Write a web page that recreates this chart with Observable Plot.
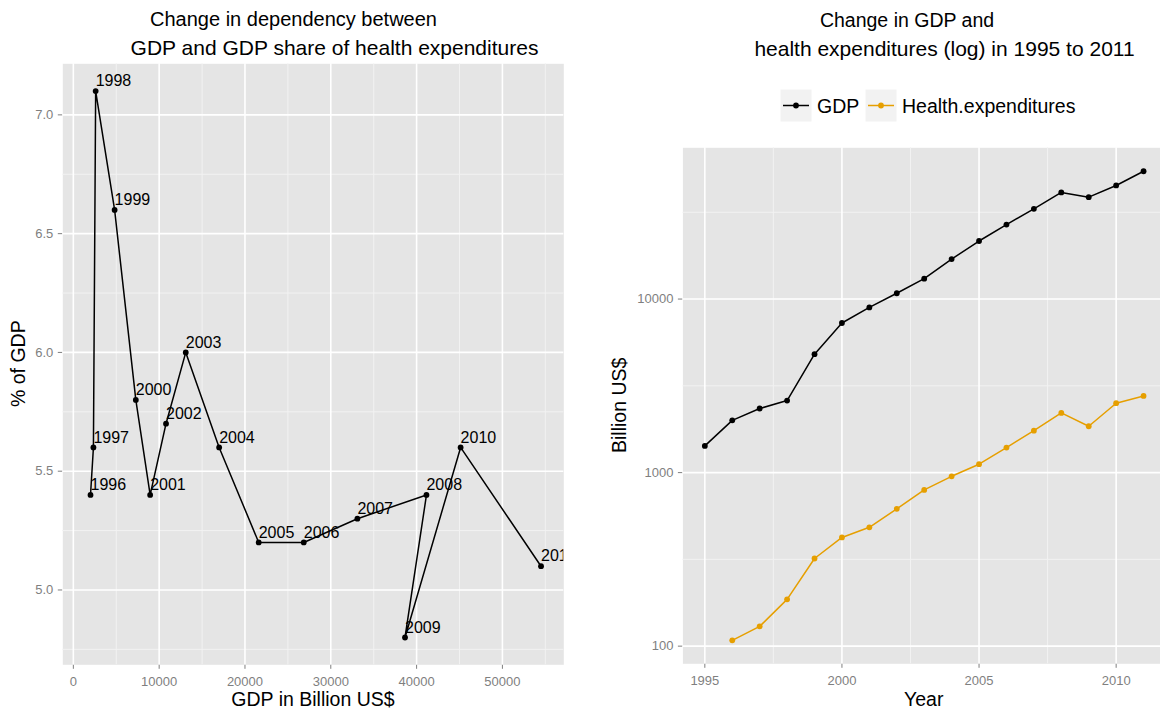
<!DOCTYPE html>
<html><head><meta charset="utf-8">
<script src="https://cdn.jsdelivr.net/npm/d3@7"></script>
<script src="https://cdn.jsdelivr.net/npm/@observablehq/plot@0.6"></script>
<style>
html,body{margin:0;padding:0;background:#fff;overflow:hidden;}
#root{position:relative;width:1160px;height:711px;overflow:hidden;font-family:"Liberation Sans",Arial,sans-serif;}
#root > svg, #root > figure{position:absolute;margin:0;}
</style></head><body><div id="root"></div>
<script>
// ---------- data ----------
const years = [1995,1996,1997,1998,1999,2000,2001,2002,2003,2004,2005,2006,2007,2008,2009,2010,2011];
const gdp = [1425,2000,2340,2600,4810,7280,8950,10800,13100,16990,21600,26850,33100,41150,38650,45130,54500];
const healthExpenditures = [null,108,130,186,320,423,484,618,795,952,1118,1393,1745,2207,1849,2511,2764];
const healthShare = [null,5.4,5.6,7.1,6.6,5.8,5.4,5.7,6.0,5.6,5.2,5.2,5.3,5.4,4.8,5.6,5.1];

const seriesNames = ["GDP","Health.expenditures"];
const seriesColors = ["#000000","#E69F00"];

const leftXTicks = [0,10000,20000,30000,40000,50000];
const leftXMinor = [5000,15000,25000,35000,45000,55000];
const leftYTicks = [5.0,5.5,6.0,6.5,7.0];
const leftYMinor = [4.75,5.25,5.75,6.25,6.75];
const rightXTicks = [1995,2000,2005,2010];
const rightXMinor = [1997.5,2002.5,2007.5];
const rightYTicks = [100,1000,10000];
const rightYMinor = [316.23,3162.3,31623];

const leftTitle = ["Change in dependency between", "GDP and GDP share of health expenditures"];
const rightTitle = ["Change in GDP and", "health expenditures (log) in 1995 to 2011"];

// ---------- tables ----------
const leftData = years.map((y,i)=>({year:y, gdp:gdp[i], share:healthShare[i]})).filter(d=>d.share!=null);
const rightData = [];
years.forEach((y,i)=>{
  rightData.push({year:y, series:seriesNames[0], value:gdp[i]});
  if (healthExpenditures[i]!=null) rightData.push({year:y, series:seriesNames[1], value:healthExpenditures[i]});
});

function pad(ext, f=0.05){const r=ext[1]-ext[0];return [ext[0]-r*f, ext[1]+r*f];}
const xDomL = pad(d3.extent(gdp));
const yDomL = pad(d3.extent(leftData, d=>d.share));
const xDomR = pad(d3.extent(years));
const lg = pad(d3.extent(rightData, d=>Math.log10(d.value)));
const yDomR = [10**lg[0], 10**lg[1]];

const FONT = "Liberation Sans, Arial, sans-serif";
const PANEL = "#e5e5e5", MINOR = "#f2f2f2", MAJOR = "#ffffff", TICK = "#7f7f7f";

const root = document.getElementById("root");

// ---------- left chart ----------
const left = Plot.plot({
  width: 580, height: 711,
  marginLeft: 62.3, marginRight: 16.7, marginTop: 63.3, marginBottom: 46.7,
  style: {fontFamily: FONT, fontSize: "13px", color: TICK, background: "transparent", overflow: "visible"},
  x: {domain: xDomL, ticks: leftXTicks, tickFormat: "d", tickSize: 4.5, tickPadding: 7, label: null},
  y: {domain: yDomL, ticks: leftYTicks, tickFormat: ".1f", tickSize: 4.5, tickPadding: 5, label: null},
  marks: [
    Plot.frame({fill: PANEL, stroke: "none"}),
    Plot.ruleX(leftXMinor, {stroke: MINOR, strokeWidth: 1}),
    Plot.ruleY(leftYMinor, {stroke: MINOR, strokeWidth: 1}),
    Plot.ruleX(leftXTicks, {stroke: MAJOR, strokeWidth: 1.6}),
    Plot.ruleY(leftYTicks, {stroke: MAJOR, strokeWidth: 1.6}),
    Plot.line(leftData, {x: "gdp", y: "share", stroke: "#000", strokeWidth: 1.5}),
    Plot.dot(leftData, {x: "gdp", y: "share", r: 2.9, fill: "#000", stroke: "none"}),
    Plot.text(leftData, {x: "gdp", y: "share", text: d => String(d.year), textAnchor: "start",
      dx: 0, dy: -10, fontSize: 16, fill: "#000", clip: true})
  ]
});
left.style.left = "0px"; left.style.top = "0px";
root.appendChild(left);

// ---------- right chart ----------
const right = Plot.plot({
  width: 600, height: 711,
  marginLeft: 102.4, marginRight: 15, marginTop: 147.3, marginBottom: 47.7,
  style: {fontFamily: FONT, fontSize: "13px", color: TICK, background: "transparent", overflow: "visible"},
  x: {domain: xDomR, ticks: rightXTicks, tickFormat: "d", tickSize: 4.5, tickPadding: 7, label: null},
  y: {type: "log", domain: yDomR, ticks: rightYTicks, tickFormat: "d", tickSize: 4.5, tickPadding: 5, label: null},
  color: {domain: seriesNames, range: seriesColors},
  marks: [
    Plot.frame({fill: PANEL, stroke: "none"}),
    Plot.ruleX(rightXMinor, {stroke: MINOR, strokeWidth: 1}),
    Plot.ruleY(rightYMinor, {stroke: MINOR, strokeWidth: 1}),
    Plot.ruleX(rightXTicks, {stroke: MAJOR, strokeWidth: 1.6}),
    Plot.ruleY(rightYTicks, {stroke: MAJOR, strokeWidth: 1.6}),
    Plot.line(rightData, {x: "year", y: "value", z: "series", stroke: "series", strokeWidth: 1.5}),
    Plot.dot(rightData, {x: "year", y: "value", fill: "series", r: 2.9, stroke: "none"})
  ]
});
right.style.left = "580px"; right.style.top = "0px";
root.appendChild(right);

// ---------- titles, axis titles, legend ----------
const ov = d3.select(root).append("svg")
  .attr("width", 1160).attr("height", 711)
  .style("position","absolute").style("left","0px").style("top","0px")
  .style("font-family", FONT);

function txt(x, y, s, size, anchor="middle", rot=0){
  const t = ov.append("text").attr("x", x).attr("y", y).attr("font-size", size)
    .attr("text-anchor", anchor).attr("fill", "#000").text(s);
  if (rot) t.attr("transform", `rotate(${rot},${x},${y})`);
  return t;
}
txt(293.5, 26, leftTitle[0], 20);
txt(334.5, 55, leftTitle[1], 21);
txt(907, 27, rightTitle[0], 19.5);
txt(944.5, 56, rightTitle[1], 21);
txt(313, 706, "GDP in Billion US$", 19.5);
txt(25, 363.7, "% of GDP", 19.5, "middle", -90);
txt(923.7, 706, "Year", 19.5);
txt(626, 405.3, "Billion US$", 19.5, "middle", -90);

// legend
const keyY = 89, keyH = 33, keyW = 32;
const keys = [{x: 780, tx: 817}, {x: 865, tx: 902}];
seriesNames.forEach((name, i) => {
  const k = keys[i];
  ov.append("rect").attr("x", k.x).attr("y", keyY).attr("width", keyW).attr("height", keyH)
    .attr("fill", MINOR).attr("stroke", "#fff").attr("stroke-width", 1);
  ov.append("line").attr("x1", k.x + 3).attr("x2", k.x + keyW - 3)
    .attr("y1", keyY + keyH/2).attr("y2", keyY + keyH/2)
    .attr("stroke", seriesColors[i]).attr("stroke-width", 1.5);
  ov.append("circle").attr("cx", k.x + keyW/2).attr("cy", keyY + keyH/2).attr("r", 2.9)
    .attr("fill", seriesColors[i]);
  txt(k.tx, keyY + keyH/2 + 7, name, 19.5, "start");
});
</script></body></html>
